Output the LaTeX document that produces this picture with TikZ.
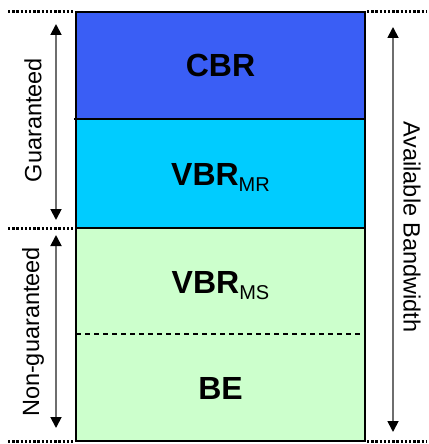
\documentclass[tikz,border=0pt]{standalone}
\usepackage{fontspec}
\setmainfont{Liberation Sans}
\usepackage{xcolor}
\usetikzlibrary{arrows.meta}

\definecolor{cbrblue}{HTML}{3A5EF5}
\definecolor{mrcyan}{HTML}{00CCFF}
\definecolor{msgreen}{HTML}{CCFFCC}
\definecolor{arrowgray}{HTML}{6E6E6E}

\begin{document}
\begin{tikzpicture}[x=1pt,y=-1pt,
    band/.style={anchor=base,inner sep=0pt,font=\bfseries\fontsize{32}{36}\selectfont},
    side/.style={inner sep=0pt,font=\fontsize{23.5}{26}\selectfont},
    span/.style={{Triangle[length=11pt,width=11pt,color=black]}-{Triangle[length=11pt,width=11pt,color=black]},line width=1.8pt,draw=arrowgray},
    dots/.style={line width=3pt,dash pattern=on 2.4pt off 1.8pt}]
    \useasboundingbox (0,0) rectangle (428,444);

    % bandwidth shares
    \fill[cbrblue] (76,12) rectangle (365,119);
    \fill[mrcyan] (76,119) rectangle (365,228);
    \fill[msgreen] (76,228) rectangle (365,441);
    \draw[line width=1.4pt,dashed,dash pattern=on 5pt off 4pt] (76,334) -- (365,334);
    \draw[line width=2.8pt] (74,119) -- (365,119);
    \draw[line width=2.8pt] (76,228) -- (365,228);
    \draw[line width=2.8pt] (76,12) rectangle (365,441);

    % dotted limits
    \draw[dots] (8,12) -- (75,12);
    \draw[dots] (8,228) -- (75,228);
    \draw[dots] (8,441) -- (75,441);
    \draw[dots] (367,12) -- (426,12);
    \draw[dots] (367,441) -- (426,441);

    \node[band] (cbr) at (220.5,77) {CBR};
    \node[band] (vbrmr) at (220.5,185) {VBR{\mdseries\fontsize{20}{20}\selectfont\raisebox{-6pt}{MR}}};
    \node[band] (vbrms) at (220.5,293) {VBR{\mdseries\fontsize{20}{20}\selectfont\raisebox{-6pt}{MS}}};
    \node[band] (be) at (220.5,399) {BE};

    % side arrows
    \coordinate (gtop) at (56,24);
    \coordinate (gbot) at (56,220);
    \coordinate (ntop) at (56,235);
    \coordinate (nbot) at (56,428);
    \coordinate (atop) at (393,27);
    \coordinate (abot) at (393,432);
    \draw[span] (gtop) -- (gbot);
    \draw[span] (ntop) -- (nbot);
    \draw[span] (atop) -- (abot);
    \node[side,rotate=90] (guar) at (33,120) {Guaranteed};
    \node[side,rotate=90] (nonguar) at (33,332) {Non-guaranteed};
    \node[side,rotate=-90] (avail) at (412,227) {Available Bandwidth};
\end{tikzpicture}
\end{document}
